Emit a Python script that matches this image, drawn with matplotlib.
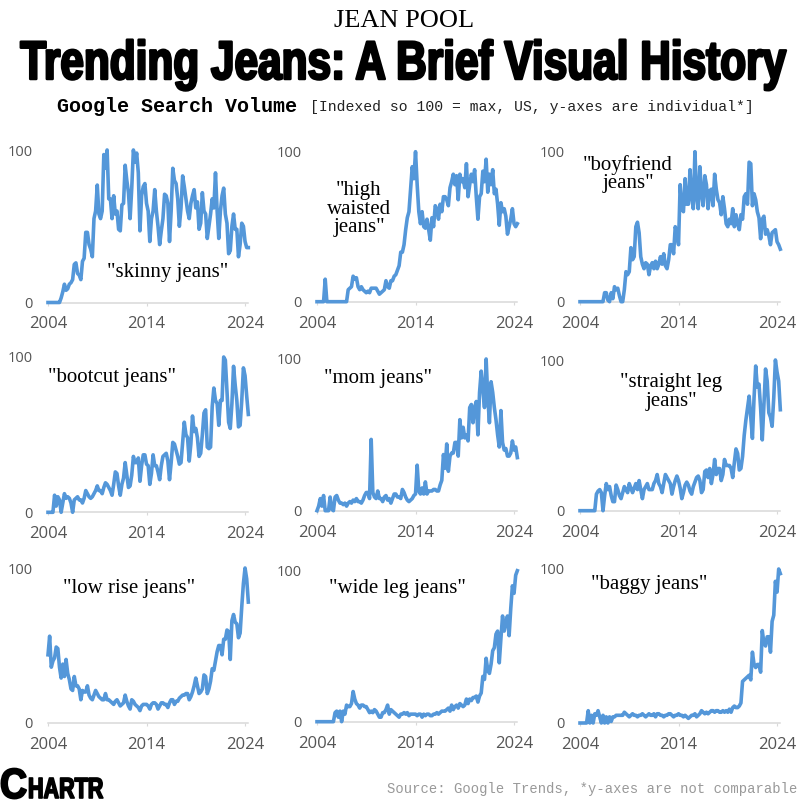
import numpy as np
import matplotlib
matplotlib.use("Agg")
import matplotlib.pyplot as plt
import matplotlib.patheffects as pe
from matplotlib.transforms import Affine2D

# values read every two months, one row per year, 2004 to spring 2024
skinny = [0,0,0,0,0,0, 0,0,3,7,12,8, 9,12,13,15,25,26, 19,18,15,27,29,46, 46,38,35,30,55,60,
          77,58,55,60,97,88, 100,68,68,55,70,58, 60,48,47,64,65,90, 80,72,55,75,100,92,
          98,85,47,70,76,78, 65,60,40,55,60,74, 60,50,38,47,55,71, 70,65,40,60,88,80,
          78,68,50,62,83,76, 68,60,55,65,70,74, 62,66,48,52,72,60, 58,42,50,58,68,62,
          85,60,42,60,70,75, 58,52,32,34,50,58, 48,48,30,38,52,50, 40,36,36]
high_waisted = [0,0,0,0,0,15, 0,0,0,0,0,0, 0,0,0,0,0,0, 0,8,9,10,17,15, 16,10,8,10,8,7,
                6,7,6,9,9,9, 9,7,5,6,7,8, 14,10,9,14,14,17, 18,21,24,33,33,38,
                48,56,60,75,90,82, 100,78,60,52,60,50, 49,55,48,41,56,50, 64,62,55,65,60,70,
                70,68,64,76,80,85, 78,84,68,85,80,82, 76,92,70,78,85,80, 88,70,55,70,72,87,
                80,95,73,85,78,88, 72,75,65,51,66,60, 62,57,45,50,55,62, 52,50,52]
boyfriend = [0,0,0,0,0,0, 0,0,0,0,0,0, 0,0,0,6,6,1, 0,6,2,10,8,9, 4,0,0,8,20,18,
             20,36,28,30,50,53, 46,30,25,22,26,25, 18,24,26,22,27,22, 25,30,25,32,24,22,
             28,38,38,32,50,46, 38,78,62,60,82,65, 65,88,70,62,100,70, 62,90,72,64,84,78,
             62,74,75,64,85,75, 68,66,58,70,62,52, 50,55,52,62,50,58, 52,48,58,55,70,72,
             65,93,92,64,72,68, 60,56,42,55,57,45, 48,44,38,46,47,48, 40,38,35]
bootcut = [0,0,0,0,11,4, 10,8,0,6,12,9, 10,9,6,0,8,9, 10,8,8,6,9,14, 12,10,9,10,12,14,
           17,14,14,12,16,19, 18,16,14,11,18,26, 25,17,11,18,22,32, 24,16,17,24,36,32,
           32,35,20,30,37,37, 31,30,18,25,37,30, 30,26,21,30,36,37, 38,33,21,32,45,44,
           40,36,31,32,45,58, 50,48,33,44,62,52, 54,48,36,38,50,64, 66,42,41,42,68,80,
           72,70,56,72,72,100, 98,78,58,54,70,94, 82,72,55,56,72,93, 88,75,63]
mom = [0,3,8,3,10,0, 0,0,9,1,0,9, 10,7,5,5,4,5, 3,5,6,5,7,6, 8,6,6,5,7,10,
       12,12,8,47,12,9, 8,13,8,8,6,9, 10,7,8,5,8,11, 11,9,9,8,14,12, 9,7,6,7,8,10,
       11,30,13,11,15,11, 19,11,13,13,13,14, 14,13,13,17,20,37, 28,44,26,36,38,38,
       45,45,36,60,48,55, 48,50,46,68,70,58, 68,72,50,78,92,80, 68,100,75,58,85,78,
       68,60,50,42,66,45, 40,41,36,36,38,46, 40,42,35]
straight_leg = [0,0,0,0,0,0, 0,0,0,0,11,13, 14,12,0,10,18,14, 16,10,6,6,17,14, 10,8,12,16,14,12,
                18,15,12,15,18,14, 20,14,8,14,16,18, 14,14,14,18,20,24, 18,16,12,18,24,22,
                20,18,11,16,20,23, 20,15,8,12,17,19, 17,13,11,16,19,22, 23,20,12,14,26,27,
                22,28,18,24,34,24, 28,28,20,24,34,30, 30,30,28,22,32,41, 38,27,28,36,50,60,
                68,76,62,48,75,96, 82,84,68,47,70,94, 86,65,62,56,75,100, 92,86,67]
low_rise = [44,56,36,40,42,49, 48,36,29,38,30,41, 32,28,22,21,30,24, 24,22,15,21,20,20,
            24,18,16,15,18,21, 19,17,16,15,15,19, 15,15,14,13,12,14, 15,13,11,12,13,18,
            14,11,9,15,14,12, 11,10,8,11,12,12, 12,11,9,12,13,13, 12,9,11,13,13,12,
            12,10,13,15,15,12, 14,14,16,17,18,18, 19,19,15,17,20,24, 29,24,19,20,22,31,
            30,19,22,27,35,34, 40,46,50,50,44,54, 54,60,59,41,66,70, 65,64,55,58,75,90,
            100,93,78]
wide_leg = [0,0,0,0,0,0, 0,0,0,0,0,6, 7,3,7,0,7,5, 11,10,10,12,20,15, 12,11,9,11,11,10,
            10,8,6,7,6,8, 7,5,3,3,6,6, 8,11,5,8,7,6, 5,4,3,5,5,6, 5,6,4,5,5,5,
            5,4,5,5,3,5, 4,5,5,4,4,5, 5,6,5,6,7,7, 7,8,9,7,11,8, 10,11,9,12,11,10,
            11,15,12,15,14,16, 16,17,13,17,19,30, 28,42,34,32,38,47, 49,58,60,39,55,70,
            60,66,70,57,75,90, 85,97,100]
baggy = [0,0,0,0,0,8, 0,5,0,6,5,8, 4,0,5,0,4,0, 4,1,4,4,5,5, 5,5,5,7,6,5,
         4,5,6,5,5,4, 5,5,6,5,4,5, 6,5,5,6,4,6, 6,5,5,4,5,5, 6,6,5,4,5,5,
         6,5,5,4,5,4, 3,4,5,5,6,4, 5,6,8,7,6,7, 6,7,8,8,7,8, 8,7,7,8,7,8,
         7,9,7,10,11,10, 10,11,13,27,28,29, 30,31,28,46,38,36, 38,38,33,60,52,50,
         56,56,46,66,70,92, 85,100,97]

year_ticks = [2004, 2014, 2024]
value_ticks = [0, 100]

BLUE = "#5497d9"
SIZE = 800


def fx(x):
    return x / SIZE


def fy(y):
    return 1 - y / SIZE


class TallText(pe.AbstractPathEffect):
    # no condensed font here, so draw the glyphs taller around the baseline and fatten them
    def __init__(self, baseline_px, stretch, weight, drop=0):
        super().__init__()
        self.base = SIZE - baseline_px
        self.stretch = stretch
        self.weight = weight
        self.drop = drop

    def draw_path(self, renderer, gc, tpath, affine, rgbFace=None):
        tall = affine + Affine2D().translate(0, -self.base).scale(1, self.stretch).translate(0, self.base - self.drop)
        gc0 = renderer.new_gc()
        gc0.copy_properties(gc)
        gc0.set_linewidth(self.weight)
        gc0.set_foreground("black")
        renderer.draw_path(gc0, tpath, tall, rgbFace)
        gc0.restore()


fig = plt.figure(figsize=(8, 8), dpi=100, facecolor="white")

# series, label, x of 2004, x of 2024, y of 0, y of 100, label x, label y (all pixels)
panels = [
    (skinny, '"skinny jeans"', 48, 248, 302.5, 150, 168, 272),
    (high_waisted, '"high\nwaisted\njeans"', 317, 517, 301.7, 151.7, 359, 209),
    (boyfriend, '"boyfriend\njeans"', 580, 780, 301.7, 151.7, 628, 174),
    (bootcut, '"bootcut jeans"', 48, 248, 512.3, 357, 112, 378),
    (mom, '"mom jeans"', 317, 517, 510.7, 359, 378, 379),
    (straight_leg, '"straight leg\njeans"', 580, 780, 510.7, 360, 671, 392),
    (low_rise, '"low rise jeans"', 48, 248, 723, 568, 129, 589),
    (wide_leg, '"wide leg jeans"', 317, 517, 721.7, 570.7, 397, 589),
    (baggy, '"baggy jeans"', 580, 780, 723, 569, 649, 585),
]

for values, label, x0, x1, y0, y100, lx, ly in panels:
    ax = fig.add_axes([fx(x0), fy(y0), (x1 - x0) / SIZE, (y0 - y100) / SIZE])
    years = 2004 + np.arange(len(values)) / 6
    ax.plot(years, values, color=BLUE, lw=2.6, clip_on=False, solid_joinstyle="round", zorder=3)
    ax.set_xlim(2004, 2024.3)
    ax.set_ylim(0, 100)
    ax.set_xticks(year_ticks)
    ax.set_yticks(value_ticks)
    ax.patch.set_alpha(0)
    for side in ["left", "right", "top"]:
        ax.spines[side].set_visible(False)
    ax.spines["bottom"].set_color("#d9d9d9")
    ax.spines["bottom"].set_linewidth(1.1)
    ax.tick_params(axis="x", length=2.5, width=0.8, color="#d9d9d9", pad=7.5, labelsize=12, labelcolor="#555555")
    ax.tick_params(axis="y", length=0, pad=10.8, labelsize=10.5, labelcolor="#555555")
    for t in ax.get_xticklabels() + ax.get_yticklabels():
        t.set_fontfamily("Open Sans")
    fig.text(fx(lx), fy(ly), label, family="Liberation Serif", fontsize=15, color="black",
             ha="center", va="center", linespacing=0.96, multialignment="center")

fig.text(fx(404), fy(21), "JEAN POOL", family="Liberation Serif", fontsize=19, ha="center", va="center")
title = fig.text(fx(404), fy(79), "Trending Jeans: A Brief Visual History", family="Liberation Sans",
                 weight="bold", fontsize=30.5, ha="center", va="baseline", color="black")
title.set_path_effects([TallText(79, 1.28, 1.8)])

fig.text(fx(57), fy(106), "Google Search Volume", family="Liberation Mono", weight="bold", fontsize=14.4,
         ha="left", va="center")
fig.text(fx(310), fy(107), "[Indexed so 100 = max, US, y-axes are individual*]", family="Liberation Mono",
         fontsize=10.6, ha="left", va="center", color="#222222")
fig.text(fx(797), fy(789), "Source: Google Trends, *y-axes are not comparable", family="Liberation Mono",
         fontsize=10, ha="right", va="center", color="#999999")

# logo, big C then the smaller letters
logo_c = fig.text(fx(0), fy(790), "C", family="Liberation Sans", weight="bold", fontsize=27,
                  ha="left", va="baseline")
logo_c.set_path_effects([TallText(790, 1.12, 1.5, drop=8)])
logo_rest = fig.text(fx(28), fy(792), "HARTR", family="Liberation Sans", weight="bold", fontsize=15.5,
                     ha="left", va="baseline")
logo_rest.set_path_effects([TallText(792, 1.35, 1.2, drop=6)])

fig.savefig("out.png", dpi=100)
